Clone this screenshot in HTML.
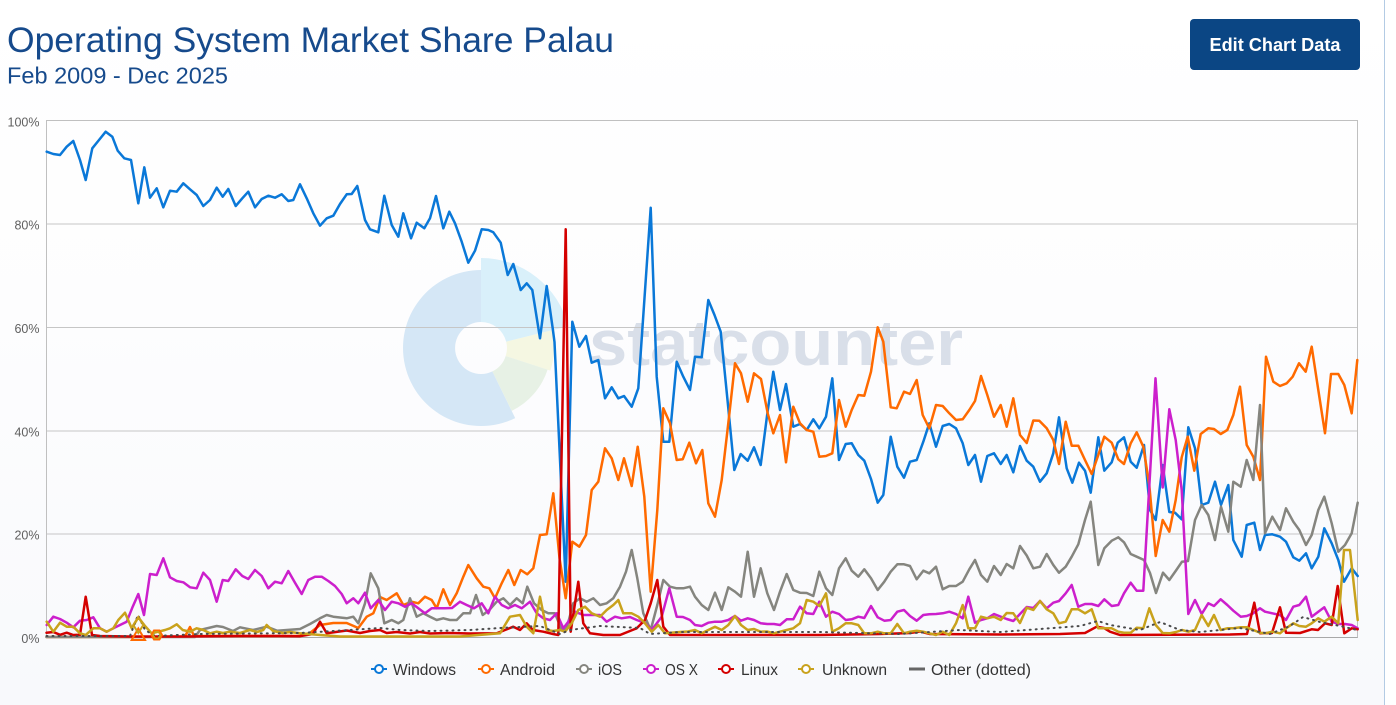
<!DOCTYPE html>
<html>
<head>
<meta charset="utf-8">
<style>
html,body{margin:0;padding:0;background:#fff;}
body{width:1396px;height:705px;overflow:hidden;position:relative;font-family:"Liberation Sans",sans-serif;}
svg{position:absolute;left:0;top:0;}
</style>
</head>
<body>
<svg width="1396" height="705" viewBox="0 0 1396 705" xmlns="http://www.w3.org/2000/svg">
<defs>
<linearGradient id="bg" x1="0" y1="0" x2="0" y2="1">
<stop offset="0" stop-color="#ffffff"/>
<stop offset="0.45" stop-color="#fdfdfe"/>
<stop offset="1" stop-color="#f8f9fc"/>
</linearGradient>
</defs>
<rect x="0" y="0" width="1385" height="705" fill="url(#bg)"/>
<rect x="1385" y="0" width="11" height="705" fill="#ffffff"/>
<line x1="1384.5" y1="0" x2="1384.5" y2="705" stroke="#b3cbe4" stroke-width="1"/>

<!-- Title -->
<text x="7" y="52" font-family="Liberation Sans, sans-serif" font-size="35.5" fill="#164a8c" textLength="607" lengthAdjust="spacingAndGlyphs">Operating System Market Share Palau</text>
<text x="7" y="83.5" font-family="Liberation Sans, sans-serif" font-size="23" fill="#164a8c" textLength="221" lengthAdjust="spacingAndGlyphs">Feb 2009 - Dec 2025</text>

<!-- Button -->
<rect x="1190" y="19" width="170" height="51" rx="4" ry="4" fill="#0b4684"/>
<text x="1275" y="51" text-anchor="middle" font-family="Liberation Sans, sans-serif" font-size="18" font-weight="bold" fill="#ffffff" textLength="131" lengthAdjust="spacingAndGlyphs">Edit Chart Data</text>

<!-- Watermark -->
<path d="M515.2,418.1 A78,78 0 1 1 481,270 L481,322 A26,26 0 1 0 492.4,371.4 Z" fill="#d5e7f6"/>
<path d="M481,258 A90,90 0 0 1 568.3,326.2 L506.2,341.7 A26,26 0 0 0 481,322 Z" fill="#d9f0fa"/>
<path d="M551.8,330.3 A73,73 0 0 1 550.4,370.6 L505.7,356 A26,26 0 0 0 506.2,341.7 Z" fill="#f5f7e2"/>
<path d="M547.6,369.6 A70,70 0 0 1 511.7,410.9 L492.4,371.4 A26,26 0 0 0 505.7,356 Z" fill="#e7f1e5"/>
<text x="589" y="365" font-family="Liberation Sans, sans-serif" font-size="64" font-weight="bold" fill="#d9dfe9" textLength="374" lengthAdjust="spacingAndGlyphs">statcounter</text>

<!-- Grid -->
<g stroke="#c6c6c6" stroke-width="1">
<line x1="46.5" y1="224" x2="1357.5" y2="224"/>
<line x1="46.5" y1="327.5" x2="1357.5" y2="327.5"/>
<line x1="46.5" y1="431" x2="1357.5" y2="431"/>
<line x1="46.5" y1="534" x2="1357.5" y2="534"/>
</g>
<rect x="46.5" y="120.5" width="1311" height="517" fill="none" stroke="#c0c0c0" stroke-width="1"/>
<line x1="46.5" y1="637.5" x2="1357.5" y2="637.5" stroke="#a8a8a8" stroke-width="1"/>

<!-- Y labels -->
<g font-family="Liberation Sans, sans-serif" font-size="12.5" fill="#606060" text-anchor="end">
<text x="39.5" y="126.5">100%</text>
<text x="39.5" y="229.5">80%</text>
<text x="39.5" y="333">60%</text>
<text x="39.5" y="436.5">40%</text>
<text x="39.5" y="539.5">20%</text>
<text x="39.5" y="643">0%</text>
</g>

<g fill="none" stroke-width="2.5" stroke-linejoin="round" stroke-linecap="round">
<!-- Windows -->
<polyline stroke="#0a78d8" points="46.7,151.7 53.3,154 60,155 66.7,146.7 73.3,141 80,160 85.7,180 92.3,148.3 99,140 105.7,131.7 112.3,136.7 117.7,150.7 124.3,158.3 131,160 138.3,203.3 144.3,167.3 150,197.7 156.7,188.3 163.3,207.3 170,190.7 176.7,191.7 183.3,183.3 190,189.3 196.7,195 203.3,206 210,200 216.7,187.7 222.7,196.7 228.3,189 235.7,206 242.3,198.3 248.3,191.7 255,207.3 261.7,199 268.3,195.7 275,197.7 281.7,194.3 288.3,201 293.3,200 300,184.3 306.7,198.3 313.3,213.3 320,225.7 326.7,218.3 333.3,215.7 340,204 346.7,194.3 351.7,194 357.3,186 365,220 370,229.3 378.3,232.3 384.3,195.7 391.7,225 398.3,236.7 403.3,213.3 411,238.3 416.7,222.7 424.3,228.3 430,218.3 436,196 443.3,228.3 449.3,211.7 455,223.3 461.7,241.7 468.3,262.7 475,250.7 481.7,229.3 488.3,230 493.3,232.3 500.7,242.7 507.7,275 513.3,264 520.7,290 526.7,283.3 532.3,290 540,338.3 546.7,286 552.7,328.3 554.5,342 565.7,581.7 572.3,321.7 579.3,346.7 586,336 591.7,362.7 598.3,360 605,398.3 611.7,387.3 618.3,398.3 624,396 631.7,406.7 638.3,388.3 644.5,298 650.7,207.7 656.7,376.7 663.3,441.7 669.3,441.7 676.7,361.7 683.3,376.7 690,390 695,356.7 701.7,357.3 708.3,300 714.5,315 720.7,331.7 727.5,400 734.3,470 740.7,454 747.7,460.7 754,447.3 760.7,465 767,416 773.3,371.7 780,410 786,384 793.3,426.7 800,424 806.7,430 813.3,419.3 819.3,428.3 826,416.7 832.3,378.3 839,460 845.7,444 851.7,443.3 858.3,455 864.3,460.7 871,479 877.7,502.7 883.3,495 890.7,436.7 897.3,466.7 904,477.7 910,461.7 916.7,460 923.3,441.7 929.3,423.3 936,446.7 942.7,426 949.3,424 956,428.3 962.7,443.3 968.3,465 975,455 981,481.7 987.3,456 994,453.3 1000.7,464 1006.7,455 1013.3,472.3 1020,446 1026.7,460.7 1033.3,466.7 1040,481.7 1046.7,473.3 1053.3,453.3 1059,417.3 1066.7,468.3 1072.3,482.7 1079,462.7 1085,470.7 1090.7,492.7 1098.3,437.3 1104.3,470.7 1111.7,462.3 1117.7,442.7 1124,437.3 1130.7,461.7 1136.7,467.7 1144,445 1150,510 1155.7,520 1162.7,465 1169.3,512 1175,512.7 1181.7,519.3 1188.3,427.3 1195,448.3 1201.7,505 1208.3,502.7 1215,481.7 1221,505 1228.3,485 1233.3,540 1241.7,556.7 1246.7,525 1254.3,522.7 1260,550 1265,535 1272.3,534.3 1280,536.7 1286,541.7 1293.3,557.3 1299.3,560.7 1306,553.3 1311.7,568.3 1318.3,556.7 1324.3,528.3 1331.7,543.3 1338.3,560 1344,581.7 1351.7,568.3 1357.7,576"/>
<!-- Android -->
<polyline stroke="#ff6a00" points="46.5,637 130,637 185,636.5 190,627 194,636 300,636 310,633 320,625 333.3,623 346.7,623 358.3,628 366.7,616.7 373.3,613.3 380,597 386.7,600 396.7,593.3 403.3,605 411.7,601.7 418.3,603.3 425,596.7 431.7,600 436.7,608.3 443.3,589.3 450,605 456.7,593.3 463.3,576.7 468.3,565 476.7,578.3 483.3,586.7 489.3,588.3 495,598.3 501.7,583.3 508.3,570 514.3,585 520.7,570 527.3,574.3 533.3,568.3 540,535 546.7,534.3 553.3,493.3 559.5,558 565.7,598.3 572.3,541.7 579.3,546.7 586,535 591.7,490 598.3,481.7 605,448.3 611.7,458.3 618.3,480 624,458.3 631.7,486 637.7,446.7 644.3,496.7 650.7,591.7 657.3,510 663.3,408.3 670,423.3 676.7,460 682.7,459.3 689.3,442.7 696,463.3 702.3,450 708.3,503.3 715,516.7 721.7,480 728.3,423.3 735,363.3 741,373.3 747.7,401.7 754,373.3 761,379 767.7,413.3 773.3,433.3 780,415 786,462.3 793.3,406.7 800,423.3 806.7,430 813.3,431.7 819.3,456.7 826,456 832.3,453.3 839,400 845.7,426.7 851.7,410 858.3,395 864.3,395.7 871,371.7 877.7,327.3 883.3,341.7 890.7,407.3 896.7,408.3 904,391.7 910,394 916.7,380 922.7,415 929.3,428.3 936,405 942.7,406 949.3,413.3 956,420 962.7,419.3 969.3,410 975,401 981,376 987.3,395 994,416.7 1000.7,405 1006.7,426.7 1013.3,398.3 1020,435 1026.7,443 1033.3,420.5 1039.3,420.7 1046.7,428.3 1053.3,440 1059,464 1065.7,421.7 1071.7,445.7 1078.3,445.7 1085,460 1091.7,474 1098.3,455 1104.3,436.7 1111.7,442.7 1118.3,459.3 1124,464 1130.7,443.3 1136.7,432.3 1143.3,446.7 1149.3,485 1155.7,556 1162.7,520 1169.3,531.7 1175.7,500 1181.7,457.3 1187.7,436.7 1194.3,470.7 1200.7,434 1208.3,428.3 1214,429 1220.7,434 1227.3,430 1233.3,415 1240,386.7 1246.7,445 1253.3,456.7 1260,480 1266,356.7 1273.3,381.7 1280,386 1286.7,383.3 1292.7,376.7 1299,363.3 1305.7,371.7 1311.7,346.7 1318.3,390 1325,433.3 1331,374 1338.3,374 1344.3,385 1351.7,413.3 1357.3,360"/>
<!-- iOS -->
<polyline stroke="#85857f" points="46.5,637 195,637 200,630 216.7,626 223,627 233,631 240,627.3 253,630 266.7,626.7 277,630.7 300,629 310,624 320,618.3 326.7,615 333.3,616.7 346.7,618.3 353.3,616.7 358.3,623.3 365,603.3 370.7,573.3 378.3,588.3 384.3,623.3 391.7,620 398.3,623.3 403.3,620 410,598.3 416.7,616.7 423.3,613.3 430,616.7 436.7,620 443.3,618.3 450,620 456.7,620 463.3,613.3 470,613.3 476,595 482.7,615 489.3,610 496.7,601.7 503.3,598.3 510,605 516.7,598.3 522.7,603.3 527.3,586.7 534,603.3 541.7,610 548.3,613.3 555,613.3 561.7,630 566.7,628 573.3,603.3 580,598.3 586.7,601.7 593.3,598.3 600,605 606.7,603.3 613.3,598.3 620,586.7 626,571.7 631.7,550 637.3,578.3 643.3,613.3 650.7,630 657.3,605 663.3,580 670,586.7 676.7,588.3 683.3,588.3 690,586.7 695,596.7 701.7,605 708.3,610 715,592.7 721.7,610 728.3,587.3 735,591.7 741,596.7 747.7,551.7 754,596.7 760.7,568.3 767.3,593.3 774,610 780,591.7 786.7,574 793.3,590 800,592.7 806.7,593 813.3,596 819.3,571.7 826,588.3 832.3,595 839,568.3 845.7,558.3 851.7,570.7 858.3,576.7 864.3,569.3 871,578.3 877.7,590 884.3,581.7 890.7,571.7 897.3,564.3 904,564.3 910,566 916.7,579.3 923.3,570.7 929.3,573.3 936,566.7 942.7,589.3 949.3,586 956,586 962.7,581.7 969.3,569.3 975,560 981,575 987.3,581.7 994,566 1000.7,575 1006.7,564 1013.3,568.3 1020,546 1026.7,555.5 1033.3,568.3 1040,566.7 1046.7,554 1053.3,565 1059,572.7 1065.7,566.7 1071.7,556.7 1078.3,544.3 1085,520 1090.7,501.7 1098.3,565 1104.3,548.3 1111.7,540.7 1118.3,537.3 1124,542.3 1130.7,554 1136.7,556.7 1144,560 1150,573 1156,593 1163,572.7 1169.3,580 1176,570.5 1182,561.7 1188,561 1195,520 1201.7,505 1208.3,515 1215,540 1221,506.7 1228.3,531.7 1233.3,481.7 1240.7,486.7 1246.7,460 1253.3,480 1260,405 1265,533.3 1272.3,516.7 1280,530 1286,508.3 1293.3,521.7 1299.3,530 1306,545 1311.7,535 1318.3,510 1324.3,496.7 1331.7,523.3 1338.3,551.7 1345,545 1351.7,533.3 1357.7,502.7"/>
<!-- OS X -->
<polyline stroke="#cc1fcc" points="46.7,625 53.3,616.7 60,619 66.7,622.7 73.3,627.3 80,620.7 86.7,620 93.3,617.3 100,628.3 106.7,631.7 113.3,628.3 120,625 126.7,621.7 132.7,606.7 138.3,594 144,615 150,574 156.7,575 163.3,558.3 170,577.3 176.7,581 183.3,582.3 190,587.3 196.7,588.3 203.3,572.7 210,580 216.7,601.7 222.7,580 228.3,581 235.7,569.3 242.3,576 248.3,579 255,570 261.7,576 268.3,588.3 275,581.7 281.7,583.3 288.3,571 295,582.7 301.7,594 308.3,580 315,576.7 321.7,576.7 328.3,581 335,586 341.7,594 346.7,603.3 353.3,598.3 358.3,603.3 365,592.7 370.7,608.3 378.3,600 385,610 391.7,601.7 398.3,603.3 405,606.7 411.7,603.3 418.3,608.3 425,613.3 431.7,608.3 438,608.3 445,608.3 452,608 460,601.7 466.7,605 474,608.3 481.7,603.3 488.3,613.3 495,596.7 501.7,605 508.3,608.3 515,605 521.7,608.3 530,601.7 536.7,613.3 543.3,618.3 550,620 556.7,613.3 563.3,628.3 568.3,621.7 575,611.7 583.3,615 591.7,615 600,615 606.7,621.7 615,616.7 621.7,618.3 630,617 636.7,620 645,623 651.7,630 661.7,616.7 669.3,588.3 676.7,616.7 683,617 690,620 695,625 701.7,626 708.3,622.7 715,621.7 721.7,621.7 728.3,620 735,616 741,620.7 747.7,618.3 754,620 760.7,623.3 767.3,624 774,624 780,625 786.7,619.3 793.3,619.3 800,606.7 806.7,613.3 813.3,614 819.3,601.7 826,616.7 832.3,611.7 839,614 845.7,620 851.7,619.3 858.3,616.7 864.3,618 871,606 877.7,617.3 884.3,620.7 890.7,620 897.3,611.7 904,610 910,616 916.7,620.7 923.3,615 929.3,614.3 936,614 942.7,613.3 949.3,611.7 956,614 962.7,618.3 968.3,596.7 975,622.7 981,620 987.3,618.3 994,614 1000.7,616.7 1006.7,619 1013.3,621 1020,614 1026.7,607 1033.3,608 1040,601 1046.7,608.3 1053.3,602.7 1059,601 1065.7,593.3 1071.7,585 1078.3,606.7 1085,604 1091.7,604 1098.3,606 1104.3,599.3 1111.7,606 1118.3,605 1124,593.3 1130.7,582.7 1136.7,590.7 1143.3,590.7 1155.5,378.3 1162.7,487.5 1169.3,409.3 1175.7,440 1181.7,490 1188.3,614 1195,600 1201.7,614 1208.3,603.3 1214,606 1220.7,599.3 1227.3,605 1233.3,610.7 1240.7,616.7 1246.7,616 1253.3,613.3 1260,608.3 1265,611.7 1272.3,613.3 1280,615 1286,620 1293.3,606.7 1299.3,605 1306,596.7 1311.7,616.7 1318.3,611.7 1324.3,607.3 1331.7,621.7 1338.3,624 1345,624 1351.7,625 1357.7,628.3"/>
<!-- Linux -->
<polyline stroke="#d40000" points="46.5,632.7 53.3,632 60,634.8 66.7,632.7 73.3,635 80,634.8 85.7,596.7 92,635 100,636 130,636.5 180,636.5 240,636 280,636 300,636.2 313,634 320,621.7 326.7,633.3 346.7,630.5 360,633 370,631 380,630 386.7,633 396.7,632 410,633.5 420,632 430,633.5 450,633 470,633.5 496.7,633.3 505,630 513.3,626.7 520,630 526.7,623.3 533,630 543.3,631.7 553,634 558.3,635 565.7,229.3 570.7,631.7 578.3,581.7 583.3,623.3 590,633.3 603.3,635 620,635 636.7,628.3 645,620 650.7,603.3 657.3,580 663.3,626.7 670,635 700,635 760,635 820,635 880,634 910,633 920,631.5 930,634 1000,634.5 1060,634 1085,633 1096.7,626.7 1104,628 1110,631.7 1120,635 1230,634.5 1247,634 1254.3,602.7 1260,633.3 1272,633 1280,607.3 1286,632.7 1300,633 1311.7,629.3 1318,630 1325,623.3 1331.7,625 1337.7,586 1344.3,633.3 1351.7,628.3 1357.7,629.3"/>
<!-- Unknown -->
<polyline stroke="#c9a21c" points="46.7,621.7 53.3,631.7 60,622.7 66.7,626.7 73.3,626.7 80,633.3 85.7,635 93.3,628.3 100,628.3 106.7,631.7 113.3,628.3 118.3,620 125,612.7 131.7,628.3 138.3,617.3 145,626 151.7,633.3 158.3,631.7 165,630 170,628.3 176.7,624.3 182.7,630 190,631.7 196.7,628.3 203.3,630 210,633.3 216.7,631.7 223,633 230,631.7 240,633 250,630 257,632 263.3,630 266.7,625 273,631 283,633 290,632 300,633.3 320,635 340,636.5 400,636.5 460,636.5 500,633.3 510,616.7 520,615 526.7,626.7 533.3,633.3 540,596.7 546.7,630 553,631 560,630 565,631.7 571.7,623.3 578.3,610 585,606.7 591.7,613.3 600,616.7 606.7,610 613.3,605 618.3,600 623.3,613.3 631.7,613.3 638.3,616.7 645,623.3 651.7,631.7 658.3,625 665,633.3 680,632 688,631.5 695,630 701.7,633.3 708.3,630 715,626.7 721.7,630 728.3,625 735,616 741,625 747.7,630 754,629 760.7,631.7 767,631.5 774,633.3 780,631.7 786.7,630 793.3,628.3 800,623.3 806.7,600 813.3,601.7 819.3,606 826,593.3 832.3,631.7 839,628.3 845.7,623.3 851.7,623.3 858.3,625 864.3,633.3 871,633.3 877.7,631.7 884.3,633.3 890.7,633.3 897.3,624 904,633.3 910,631.7 916.7,630.7 923.3,631.7 929.3,633.3 936,635 942.7,631.7 949.3,635 956,623.3 962.7,605 968.3,628.3 975,628.3 981,616.7 987.3,618.3 994,616.7 1000.7,620 1006.7,613 1013.3,613.3 1020,623 1026.7,607.7 1033.3,610 1040,601 1046.7,609.3 1053.3,613.3 1059,623.3 1065.7,621.7 1071.7,609.3 1078.3,609.3 1085,613.3 1091.7,609.3 1098.3,628.3 1104.3,628.3 1111.7,628.3 1118.3,631.7 1124,632.7 1130.7,632.7 1136.7,627.7 1143.3,628.3 1149.3,608.3 1155.7,625 1162.7,633 1169.3,633.3 1176,632 1182,630 1188.3,631.7 1195,630 1201.7,615 1208.3,626 1214,615 1220.7,630 1227.3,628.3 1233.3,628.3 1240.7,627.3 1246.7,627.3 1253.3,630 1260,632.7 1265,633.3 1272.3,631.7 1280,633.3 1286,628.3 1293.3,623.3 1299.3,626 1306,626.7 1311.7,623.3 1318.3,618.3 1324.3,621.7 1331.7,616.7 1338.3,623.3 1344,550 1350,550 1357.7,620"/>
<!-- Other (dotted) -->
<polyline stroke="#4a4a4a" stroke-width="2" stroke-dasharray="1 5" points="46.5,636 130,636 138,615 145,630 155,636 200,634 300,633 350,630 380,628 400,630 430,631 470,630 500,628 540,626 560,634 570,630 600,626 640,628 650,634 680,632 760,632 820,632 860,633 900,634 960,630 1000,632 1040,629 1080,626 1098,621 1110,625 1140,630 1160,622 1180,630 1200,632 1240,628 1270,634 1290,626 1303,617 1320,622 1340,626 1357,630"/>
</g>

<!-- isolated point markers -->
<polygon points="131.7,640 145,640 138.3,628.5" fill="none" stroke="#ff6a00" stroke-width="2"/>
<polygon points="138.3,617 143.3,625 138.3,633 133.3,625" fill="none" stroke="#c9a21c" stroke-width="2"/>
<polygon points="151.5,635 154,630.5 159.4,630.5 162,635 159.4,639.5 154,639.5" fill="none" stroke="#ff6a00" stroke-width="2"/>
<polygon points="153,635 155,631.8 158.4,631.8 160.4,635 158.4,638.2 155,638.2" fill="none" stroke="#c9a21c" stroke-width="1.5"/>

<!-- Legend -->
<g stroke-width="2" fill="#ffffff">
<line x1="371" y1="669" x2="387" y2="669" stroke="#0a78d8"/><circle cx="379" cy="669" r="4" stroke="#0a78d8"/>
<line x1="478" y1="669" x2="494" y2="669" stroke="#ff6a00"/><circle cx="486" cy="669" r="4" stroke="#ff6a00"/>
<line x1="576" y1="669" x2="592" y2="669" stroke="#85857f"/><circle cx="584" cy="669" r="4" stroke="#85857f"/>
<line x1="643" y1="669" x2="659" y2="669" stroke="#cc1fcc"/><circle cx="651" cy="669" r="4" stroke="#cc1fcc"/>
<line x1="718" y1="669" x2="734" y2="669" stroke="#d40000"/><circle cx="726" cy="669" r="4" stroke="#d40000"/>
<line x1="798" y1="669" x2="814" y2="669" stroke="#c9a21c"/><circle cx="806" cy="669" r="4" stroke="#c9a21c"/>
<line x1="909" y1="669" x2="925" y2="669" stroke="#666666" stroke-width="3"/>
</g>
<g font-family="Liberation Sans, sans-serif" font-size="15.5" fill="#333333">
<text x="393" y="675" textLength="63" lengthAdjust="spacingAndGlyphs">Windows</text>
<text x="500" y="675" textLength="55" lengthAdjust="spacingAndGlyphs">Android</text>
<text x="598" y="675" textLength="24" lengthAdjust="spacingAndGlyphs">iOS</text>
<text x="665" y="675" textLength="33" lengthAdjust="spacingAndGlyphs">OS X</text>
<text x="741" y="675" textLength="37" lengthAdjust="spacingAndGlyphs">Linux</text>
<text x="822" y="675" textLength="65" lengthAdjust="spacingAndGlyphs">Unknown</text>
<text x="931" y="675" textLength="100" lengthAdjust="spacingAndGlyphs">Other (dotted)</text>
</g>
</svg>
</body>
</html>
